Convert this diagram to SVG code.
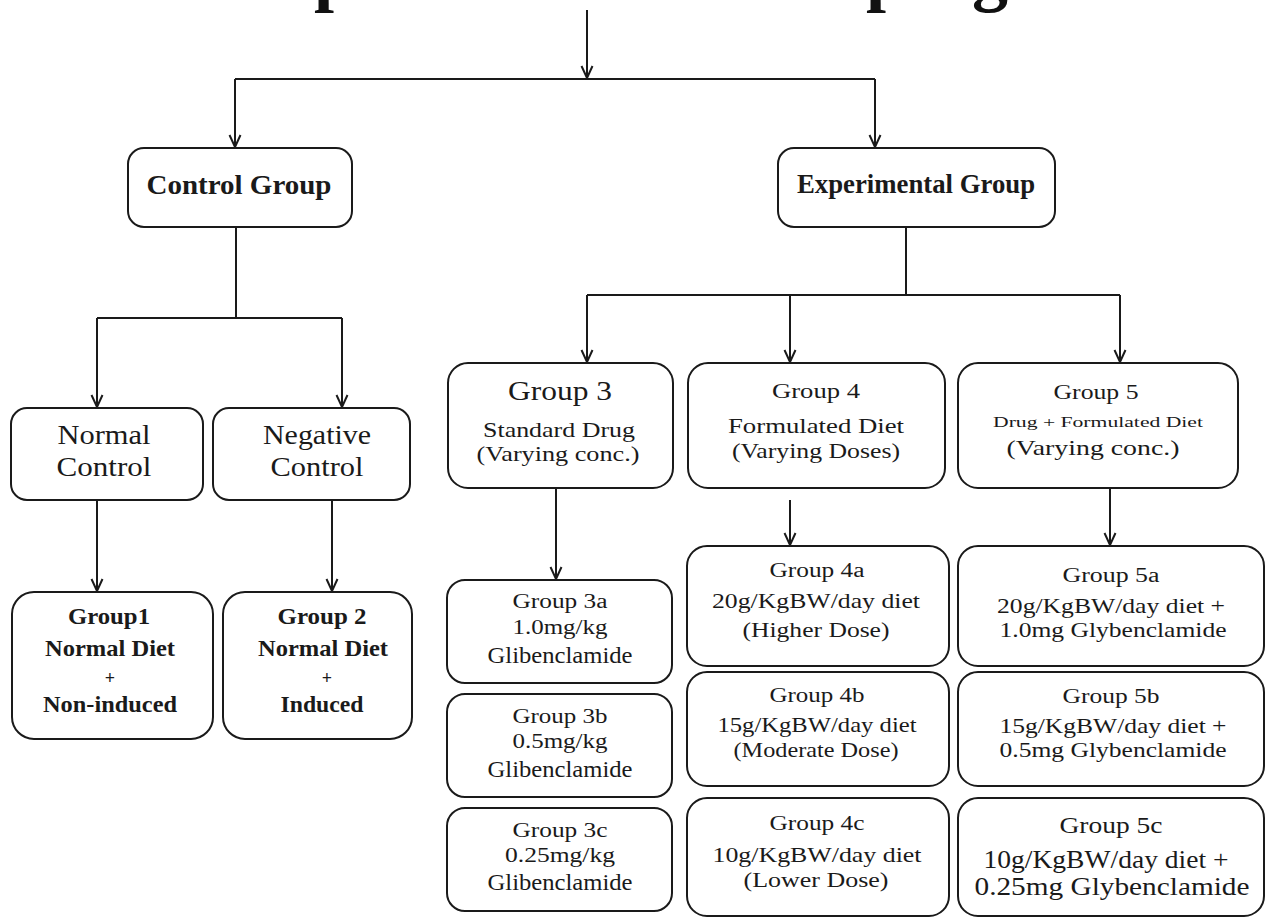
<svg xmlns="http://www.w3.org/2000/svg" width="1266" height="918" viewBox="0 0 1266 918">
<defs>
<style>
.box{fill:#fff;stroke:#1a1a1a;stroke-width:2}
.ln{fill:none;stroke:#1a1a1a;stroke-width:2}
.ar{fill:none;stroke:#1a1a1a;stroke-width:2;marker-end:url(#arr)}
text{font-family:"Liberation Serif","Times New Roman",serif;fill:#1a1a1a;text-anchor:middle}
.b{font-weight:bold}
.t{font-family:"Liberation Serif",serif;font-weight:bold;font-size:72px;text-anchor:start;fill:#111}
</style>
<marker id="arr" viewBox="0 0 14 14" refX="13" refY="7" markerWidth="14" markerHeight="14" orient="auto" markerUnits="userSpaceOnUse">
<path d="M1,1.5 L13,7 L1,12.5" fill="none" stroke="#1a1a1a" stroke-width="2"/>
</marker>
</defs>
<rect width="1266" height="918" fill="#fff"/>

<g id="title">
<text class="t" x="314" y="-2">p</text>
<text class="t" x="866" y="-2">p</text>
<text class="t" x="972" y="-2">g</text>
</g>

<g id="connectors">
<path class="ar" d="M587,10 V78"/>
<path class="ln" d="M235,79 H875"/>
<path class="ar" d="M235,79 V147"/>
<path class="ar" d="M875,79 V147"/>
<path class="ln" d="M236,227 V318"/>
<path class="ln" d="M97,318 H342"/>
<path class="ar" d="M97,318 V407"/>
<path class="ar" d="M342,318 V407"/>
<path class="ar" d="M97,500 V591"/>
<path class="ar" d="M332,500 V591"/>
<path class="ln" d="M906,227 V295"/>
<path class="ln" d="M587,295 H1120"/>
<path class="ar" d="M587,295 V362"/>
<path class="ar" d="M790,295 V362"/>
<path class="ar" d="M1120,295 V362"/>
<path class="ar" d="M556,488 V579"/>
<path class="ar" d="M790,500 V545"/>
<path class="ar" d="M1110,488 V545"/>
</g>

<g id="control-group">
<rect class="box" x="128" y="148" width="224" height="79" rx="16"/>
<text class="b" x="239" y="194" font-size="28" textLength="185" lengthAdjust="spacingAndGlyphs">Control Group</text>
</g>
<g id="experimental-group">
<rect class="box" x="778" y="148" width="277" height="79" rx="16"/>
<text class="b" x="916" y="193" font-size="28" textLength="238" lengthAdjust="spacingAndGlyphs">Experimental Group</text>
</g>

<g id="normal-control">
<rect class="box" x="11" y="408" width="192" height="92" rx="16"/>
<text x="104" y="444" font-size="27" textLength="93" lengthAdjust="spacingAndGlyphs">Normal</text>
<text x="104" y="476" font-size="27" textLength="95" lengthAdjust="spacingAndGlyphs">Control</text>
</g>
<g id="negative-control">
<rect class="box" x="213" y="408" width="197" height="92" rx="16"/>
<text x="317" y="444" font-size="27" textLength="108" lengthAdjust="spacingAndGlyphs">Negative</text>
<text x="317" y="476" font-size="27" textLength="93" lengthAdjust="spacingAndGlyphs">Control</text>
</g>

<g id="group-1">
<rect class="box" x="12" y="592" width="201" height="147" rx="22"/>
<text class="b" x="109" y="624" font-size="24" textLength="82" lengthAdjust="spacingAndGlyphs">Group1</text>
<text class="b" x="110" y="656" font-size="24" textLength="130" lengthAdjust="spacingAndGlyphs">Normal Diet</text>
<text class="b" x="110" y="684" font-size="18">+</text>
<text class="b" x="110" y="712" font-size="24" textLength="134" lengthAdjust="spacingAndGlyphs">Non-induced</text>
</g>
<g id="group-2">
<rect class="box" x="223" y="592" width="189" height="147" rx="22"/>
<text class="b" x="322" y="624" font-size="24" textLength="89" lengthAdjust="spacingAndGlyphs">Group 2</text>
<text class="b" x="323" y="656" font-size="24" textLength="130" lengthAdjust="spacingAndGlyphs">Normal Diet</text>
<text class="b" x="327" y="684" font-size="18">+</text>
<text class="b" x="322" y="712" font-size="24" textLength="83" lengthAdjust="spacingAndGlyphs">Induced</text>
</g>

<g id="group-3">
<rect class="box" x="448" y="363" width="225" height="125" rx="20"/>
<text x="560" y="400" font-size="27" textLength="104" lengthAdjust="spacingAndGlyphs">Group 3</text>
<text x="559" y="437" font-size="22" textLength="152" lengthAdjust="spacingAndGlyphs">Standard Drug</text>
<text x="558" y="461" font-size="22" textLength="163" lengthAdjust="spacingAndGlyphs">(Varying conc.)</text>
</g>
<g id="group-4">
<rect class="box" x="688" y="363" width="257" height="125" rx="20"/>
<text x="816" y="398" font-size="20" textLength="88" lengthAdjust="spacingAndGlyphs">Group 4</text>
<text x="816" y="433" font-size="22" textLength="176" lengthAdjust="spacingAndGlyphs">Formulated Diet</text>
<text x="816" y="458" font-size="22" textLength="168" lengthAdjust="spacingAndGlyphs">(Varying Doses)</text>
</g>
<g id="group-5">
<rect class="box" x="958" y="363" width="280" height="125" rx="20"/>
<text x="1096" y="399" font-size="20" textLength="85" lengthAdjust="spacingAndGlyphs">Group 5</text>
<text x="1098" y="427" font-size="14" textLength="210" lengthAdjust="spacingAndGlyphs">Drug + Formulated Diet</text>
<text x="1093" y="455" font-size="21" textLength="173" lengthAdjust="spacingAndGlyphs">(Varying conc.)</text>
</g>

<g id="group-3a">
<rect class="box" x="447" y="580" width="225" height="103" rx="18"/>
<text x="560" y="608" font-size="20" textLength="95" lengthAdjust="spacingAndGlyphs">Group 3a</text>
<text x="560" y="634" font-size="21" textLength="95" lengthAdjust="spacingAndGlyphs">1.0mg/kg</text>
<text x="560" y="663" font-size="24" textLength="145" lengthAdjust="spacingAndGlyphs">Glibenclamide</text>
</g>
<g id="group-3b">
<rect class="box" x="447" y="694" width="225" height="103" rx="18"/>
<text x="560" y="723" font-size="20" textLength="95" lengthAdjust="spacingAndGlyphs">Group 3b</text>
<text x="560" y="748" font-size="21" textLength="95" lengthAdjust="spacingAndGlyphs">0.5mg/kg</text>
<text x="560" y="777" font-size="24" textLength="145" lengthAdjust="spacingAndGlyphs">Glibenclamide</text>
</g>
<g id="group-3c">
<rect class="box" x="447" y="808" width="225" height="103" rx="18"/>
<text x="560" y="837" font-size="20" textLength="95" lengthAdjust="spacingAndGlyphs">Group 3c</text>
<text x="560" y="862" font-size="21" textLength="110" lengthAdjust="spacingAndGlyphs">0.25mg/kg</text>
<text x="560" y="890" font-size="24" textLength="145" lengthAdjust="spacingAndGlyphs">Glibenclamide</text>
</g>

<g id="group-4a">
<rect class="box" x="687" y="546" width="262" height="120" rx="20"/>
<text x="817" y="577" font-size="20" textLength="95" lengthAdjust="spacingAndGlyphs">Group 4a</text>
<text x="816" y="608" font-size="22" textLength="208" lengthAdjust="spacingAndGlyphs">20g/KgBW/day diet</text>
<text x="816" y="637" font-size="22" textLength="147" lengthAdjust="spacingAndGlyphs">(Higher Dose)</text>
</g>
<g id="group-4b">
<rect class="box" x="687" y="672" width="262" height="114" rx="20"/>
<text x="817" y="702" font-size="20" textLength="95" lengthAdjust="spacingAndGlyphs">Group 4b</text>
<text x="817" y="732" font-size="22" textLength="199" lengthAdjust="spacingAndGlyphs">15g/KgBW/day diet</text>
<text x="816" y="757" font-size="22" textLength="165" lengthAdjust="spacingAndGlyphs">(Moderate Dose)</text>
</g>
<g id="group-4c">
<rect class="box" x="687" y="798" width="262" height="118" rx="20"/>
<text x="817" y="830" font-size="20" textLength="95" lengthAdjust="spacingAndGlyphs">Group 4c</text>
<text x="817" y="862" font-size="22" textLength="209" lengthAdjust="spacingAndGlyphs">10g/KgBW/day diet</text>
<text x="816" y="887" font-size="22" textLength="145" lengthAdjust="spacingAndGlyphs">(Lower Dose)</text>
</g>

<g id="group-5a">
<rect class="box" x="958" y="546" width="306" height="120" rx="20"/>
<text x="1111" y="582" font-size="20" textLength="97" lengthAdjust="spacingAndGlyphs">Group 5a</text>
<text x="1111" y="613" font-size="22" textLength="228" lengthAdjust="spacingAndGlyphs">20g/KgBW/day diet +</text>
<text x="1113" y="637" font-size="22" textLength="227" lengthAdjust="spacingAndGlyphs">1.0mg Glybenclamide</text>
</g>
<g id="group-5b">
<rect class="box" x="958" y="672" width="306" height="114" rx="20"/>
<text x="1111" y="703" font-size="20" textLength="97" lengthAdjust="spacingAndGlyphs">Group 5b</text>
<text x="1113" y="733" font-size="22" textLength="227" lengthAdjust="spacingAndGlyphs">15g/KgBW/day diet +</text>
<text x="1113" y="757" font-size="22" textLength="227" lengthAdjust="spacingAndGlyphs">0.5mg Glybenclamide</text>
</g>
<g id="group-5c">
<rect class="box" x="958" y="798" width="306" height="118" rx="20"/>
<text x="1111" y="833" font-size="23" textLength="103" lengthAdjust="spacingAndGlyphs">Group 5c</text>
<text x="1106" y="868" font-size="25" textLength="245" lengthAdjust="spacingAndGlyphs">10g/KgBW/day diet +</text>
<text x="1112" y="895" font-size="25" textLength="275" lengthAdjust="spacingAndGlyphs">0.25mg Glybenclamide</text>
</g>
</svg>
